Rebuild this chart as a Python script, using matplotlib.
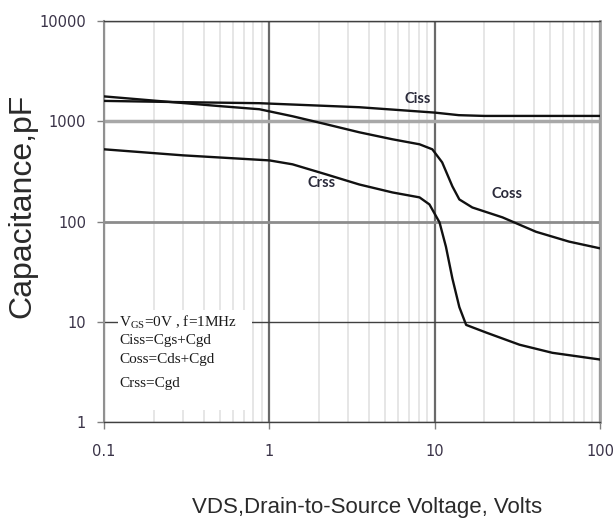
import matplotlib
matplotlib.use("Agg")
import matplotlib.pyplot as plt
from matplotlib.patches import Rectangle

# data (VDS in volts, capacitance in pF)
vds_ciss = [0.1, 0.3, 0.87, 3.5, 10, 14, 20, 100]
ciss = [1596, 1550, 1514, 1380, 1220, 1150, 1130, 1130]

vds_coss = [0.1, 0.2, 0.5, 0.87, 1.38, 2.21, 3.5, 5.55, 8.1, 9.68, 11.1, 12.8,
            14.1, 16.9, 25.7, 41, 65, 100]
coss = [1770, 1607, 1416, 1318, 1122, 933, 776, 661, 589, 525, 389, 224,
        166, 138, 110, 79, 63, 54]

vds_crss = [0.1, 0.3, 1, 1.38, 2.21, 3.5, 5.55, 8.1, 9.3, 10.7, 11.7, 12.8,
            14.1, 15.5, 20.5, 32.6, 51.5, 100]
crss = [525, 457, 407, 372, 295, 234, 195, 174, 148, 98, 56, 27,
        14, 9.3, 7.8, 5.9, 4.9, 4.2]

x_ticks = [0.1, 1, 10, 100]
x_ticklabels = ["0.1", "1", "10", "100"]
y_ticks = [1, 10, 100, 1000, 10000]
y_ticklabels = ["1", "10", "100", "1000", "10000"]

note_lines = [r"V$_{\mathrm{GS}}$=0V , f=1MHz", "Ciss=Cgs+Cgd", "Coss=Cds+Cgd", "Crss=Cgd"]

plt.rcParams["mathtext.fontset"] = "custom"
plt.rcParams["mathtext.rm"] = "Liberation Serif"

fig = plt.figure(figsize=(6.16, 5.25), dpi=100)
ax = fig.add_axes([104 / 616, 1 - 422 / 525, 496 / 616, 401 / 525])

ax.set_xscale("log")
ax.set_yscale("log")
ax.set_xlim(0.1, 100)
ax.set_ylim(1, 10000)

# grid
ax.grid(True, which="minor", axis="x", color="#e2e2e2", lw=1.2)
ax.grid(True, which="major", axis="both", color="#808080", lw=1.5)
ax.set_axisbelow(True)

ax.set_xticks(x_ticks)
ax.set_xticklabels(x_ticklabels)
ax.set_yticks(y_ticks)
ax.set_yticklabels(y_ticklabels)
ax.tick_params(which="minor", length=0)
ax.yaxis.set_minor_locator(matplotlib.ticker.NullLocator())
ax.tick_params(which="major", length=5, width=1, color="#808080",
               labelsize=10.5, labelcolor="#3a3348")
ax.tick_params(axis="x", pad=11)
ax.tick_params(axis="y", pad=8)

# individual gridline styles like in the reference
ygl = ax.get_ygridlines()
styles = {1: ("#808080", 1.0), 10: ("#404040", 1.0), 100: ("#8c8c8c", 2.0),
          1000: ("#a8a8a8", 2.5), 10000: ("#404040", 1.0)}
for val, gl in zip(y_ticks, ygl):
    c, w = styles[val]
    gl.set_color(c)
    gl.set_linewidth(w)
for gl in ax.get_xgridlines():
    gl.set_color("#6a6a6a")
    gl.set_linewidth(1.6)

for side in ["top", "bottom"]:
    ax.spines[side].set_color("#404040")
    ax.spines[side].set_linewidth(1.0)
ax.spines["left"].set_color("#909090")
ax.spines["left"].set_linewidth(1.5)
ax.spines["right"].set_color("#a0a0a0")
ax.spines["right"].set_linewidth(2.0)

# curves
ax.plot(vds_ciss, ciss, color="#111111", lw=1.7, zorder=3)
ax.plot(vds_coss, coss, color="#111111", lw=1.7, zorder=3)
ax.plot(vds_crss, crss, color="#111111", lw=1.7, zorder=3)

lab_font = dict(family=["Lato", "DejaVu Sans"], fontweight="bold", fontsize=10.5,
                color="#2a2a3a", ha="center", va="center", zorder=4)
ax.text(7.86, 1660, "Ciss", **lab_font)
ax.text(27.2, 186, "Coss", **lab_font)
ax.text(2.06, 240, "Crss", **lab_font)

# white box behind the conditions note
ax.add_patch(Rectangle((0.028, 0.03), 0.27, 0.25, transform=ax.transAxes,
                       facecolor="white", edgecolor="none", zorder=2))
note_y = [0.249, 0.202, 0.155, 0.097]
for txt, yy in zip(note_lines, note_y):
    ax.text(0.031, yy, txt, transform=ax.transAxes, family="Liberation Serif",
            fontsize=11, color="#1a1a1a", ha="left", va="center", zorder=4)

fig.text(22 / 616, 1 - 206 / 525, "Capacitance,pF", rotation=90,
         family=["Liberation Sans", "DejaVu Sans"], fontsize=23, color="#2a2a2a",
         ha="center", va="center")
fig.text(367 / 616, 1 - 508 / 525, "VDS,Drain-to-Source Voltage, Volts",
         family=["Liberation Sans", "DejaVu Sans"], fontsize=16,
         color="#2a2a2a", ha="center", va="center")

fig.savefig("out.png", dpi=100)
